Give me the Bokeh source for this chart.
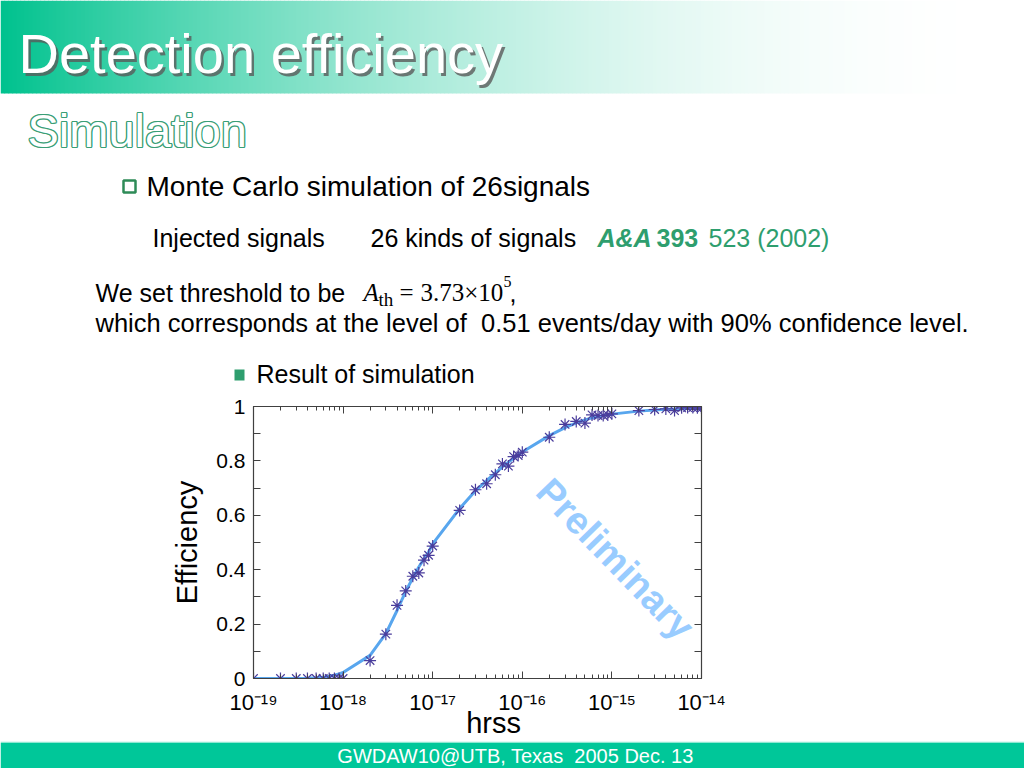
import numpy as np
from bokeh.plotting import figure
from bokeh.layouts import column
from bokeh.models import Range1d, Label, LogAxis, LinearAxis, FixedTicker
from bokeh.core.properties import value
from bokeh.embed import file_html
from bokeh.resources import INLINE

# ---------------- data ----------------
h_rss = [1e-19, 2e-19, 3e-19, 4e-19, 5e-19, 6e-19, 7e-19, 8e-19, 9e-19,
         1e-18, 2e-18, 3e-18, 4e-18, 5e-18, 6e-18, 7e-18, 8e-18, 9e-18,
         1e-17, 2e-17, 3e-17, 4e-17, 5e-17, 6e-17, 7e-17, 8e-17, 9e-17,
         1e-16, 2e-16, 3e-16, 4e-16, 5e-16, 6e-16, 7e-16, 8e-16, 9e-16,
         1e-15, 2e-15, 3e-15, 4e-15, 5e-15, 6e-15, 7e-15, 8e-15, 9e-15,
         1e-14]
efficiency_sim = [0.0, 0.0, 0.0, 0.0, 0.0, 0.0, 0.0, 0.0, 0.0,
                  0.0, 0.066, 0.163, 0.269, 0.322, 0.376, 0.388, 0.435, 0.453,
                  0.487, 0.618, 0.694, 0.716, 0.749, 0.789, 0.781, 0.816, 0.820,
                  0.832, 0.887, 0.934, 0.945, 0.939, 0.969, 0.967, 0.967, 0.969,
                  0.973, 0.985, 0.989, 0.991, 0.985, 0.995, 0.996, 0.996, 0.995,
                  0.994]
efficiency_fit = [0.0, 0.0, 0.0, 0.001, 0.003, 0.005, 0.008, 0.012, 0.017,
                  0.022, 0.085, 0.165, 0.250, 0.320, 0.370, 0.410, 0.440, 0.465,
                  0.495, 0.625, 0.690, 0.728, 0.755, 0.778, 0.795, 0.810, 0.822,
                  0.833, 0.893, 0.922, 0.940, 0.951, 0.958, 0.963, 0.967, 0.970,
                  0.972, 0.983, 0.987, 0.990, 0.991, 0.992, 0.993, 0.994, 0.994,
                  0.995]
x_ticks = [1e-19, 1e-18, 1e-17, 1e-16, 1e-15, 1e-14]
x_tick_labels = ["10⁻¹⁹", "10⁻¹⁸", "10⁻¹⁷", "10⁻¹⁶", "10⁻¹⁵", "10⁻¹⁴"]
y_ticks = [0.0, 0.2, 0.4, 0.6, 0.8, 1.0]
y_tick_labels = ["0", "0.2", "0.4", "0.6", "0.8", "1"]
y_minor = [0.1, 0.3, 0.5, 0.7, 0.9]

SANS = value("Liberation Sans")
SERIF = value("Liberation Serif")
GREEN = "#2e9e6e"
NB = "\u00a0"

W = 1024
H_TOP, H_PLOT, H_FOOT = 392, 349, 27

# ---------------- top part (slide header and text) ----------------
top = figure(width=W, height=H_TOP, x_range=Range1d(0, 1024), y_range=Range1d(392, 0),
             x_axis_type=None, y_axis_type=None, output_backend="svg",
             toolbar_location=None, min_border=0, outline_line_color=None,
             frame_align=False)
top.grid.visible = False

# gradient header band
edges = np.linspace(0, 1024, 257)
c0 = np.array([0, 194, 142])
cols = []
for xl in edges[:-1]:
    tt = min(xl / 1000.0, 1.0)
    k = (1 - tt) ** 2
    c = 255 - (255 - c0) * k
    cols.append("#%02x%02x%02x" % tuple(int(round(v)) for v in c))
top.quad(left=edges[:-1], right=edges[1:] + 0.6, top=0, bottom=93, fill_color=cols, line_color=None)

def t(x, y, s, size="25px", color="black", font=SANS, style="normal", **kw):
    top.text(x=[x], y=[y], text=[s], text_font=font, text_font_size=size,
             text_color=color, text_font_style=style, text_baseline="middle", **kw)

# title with shadow
t(18, 53, "Detection efficiency", size="56px", color="#5a5a5a", x_offset=2.5, y_offset=2.5,
  text_alpha=0.8)
t(18, 53, "Detection efficiency", size="56px", color="white")

# outlined subtitle
for dx, dy in [(-1.2, 0), (1.2, 0), (0, -1.2), (0, 1.2), (-0.9, -0.9), (0.9, 0.9), (-0.9, 0.9), (0.9, -0.9)]:
    t(27, 130, "Simulation", size="47px", color="#3a9e76", x_offset=dx, y_offset=dy)
t(27, 130, "Simulation", size="47px", color="white")

# bullet line
top.quad(left=[123], right=[135], top=[180], bottom=[192], fill_color="white",
         line_color="#2e8b57", line_width=2.5)
t(146, 186, "Monte Carlo simulation of 26signals", size="28px")

t(152, 237, "Injected signals")
t(370, 237, "26 kinds of signals")
t(597, 237, "A&A", color=GREEN, style="bold italic")
t(656, 237, "393", color=GREEN, style="bold")
t(708, 237, "523 (2002)", color=GREEN)

t(95, 292, "We set threshold to be")
t(363, 292, "A", size="25px", font=SERIF, style="italic")
t(378, 299, "th", size="19px", font=SERIF)
t(399, 292, "=", size="25px", font=SERIF)
t(420, 292, "3.73×10", size="25px", font=SERIF)
t(503, 281, "5", size="16px", font=SERIF)
t(509, 292, ",")
t(95, 322, "which corresponds at the level of " + NB + "0.51 events/day with 90% confidence level.",
  size="25.5px")

top.quad(left=[234], right=[244], top=[369], bottom=[380], fill_color=GREEN, line_color=None)
t(256, 373, "Result of simulation")

# ---------------- plot ----------------
p = figure(width=W, height=H_PLOT, x_axis_type="log",
           x_range=Range1d(1e-19, 1e-14), y_range=Range1d(0, 1),
           output_backend="svg", toolbar_location=None,
           min_border_left=253, min_border_right=323, min_border_top=14, min_border_bottom=63,
           outline_line_color="#404040", outline_line_width=1.2, frame_align=False)
p.grid.visible = False

p.line(h_rss, efficiency_fit, line_color="#58a6ee", line_width=3)
p.scatter(h_rss, efficiency_sim, marker="asterisk", size=12, line_color="#4a3d9c", line_width=1.2)

x_minor = [m * d for d in x_ticks[:-1] for m in range(2, 10)]

def style_axis(ax, ticks, minor, labels, minor_len, show):
    ax.ticker = FixedTicker(ticks=ticks, minor_ticks=minor)
    ax.major_tick_in = 7
    ax.major_tick_out = 0
    ax.minor_tick_in = minor_len
    ax.minor_tick_out = 0
    ax.axis_line_color = "#404040"
    ax.major_tick_line_color = "#404040"
    ax.minor_tick_line_color = "#404040"
    ax.major_label_text_font = "Liberation Sans"
    if show:
        ax.major_label_overrides = dict(zip(ticks, labels))
        ax.major_label_text_font_size = "22px"
        ax.major_label_text_color = "black"
    else:
        ax.major_label_overrides = {tk: " " for tk in ticks}
        ax.major_label_text_font_size = "6px"
        ax.major_label_text_alpha = 0
        ax.major_label_standoff = 0

style_axis(p.xaxis[0], x_ticks, x_minor, x_tick_labels, 4, True)
p.xaxis[0].major_label_standoff = 11
p.xaxis[0].axis_label = NB * 4 + "hrss"
p.xaxis[0].axis_label_text_font = "Liberation Sans"
p.xaxis[0].axis_label_text_font_size = "29px"
p.xaxis[0].axis_label_text_font_style = "normal"
p.xaxis[0].axis_label_text_color = "black"
p.xaxis[0].axis_label_standoff = -11

style_axis(p.yaxis[0], y_ticks, y_minor, y_tick_labels, 7, True)
p.yaxis[0].major_label_text_font_size = "21px"
p.yaxis[0].major_label_standoff = 8
p.yaxis[0].axis_label = "Efficiency"
p.yaxis[0].axis_label_text_font = "Liberation Sans"
p.yaxis[0].axis_label_text_font_size = "29px"
p.yaxis[0].axis_label_text_font_style = "normal"
p.yaxis[0].axis_label_text_color = "black"
p.yaxis[0].axis_label_standoff = 10

ax_top = LogAxis()
style_axis(ax_top, x_ticks, x_minor, x_tick_labels, 4, False)
p.add_layout(ax_top, "above")
ax_right = LinearAxis()
style_axis(ax_right, y_ticks, y_minor, y_tick_labels, 7, False)
p.add_layout(ax_right, "right")

p.add_layout(Label(x=10 ** -14.96, y=0.44, text="Preliminary", text_font="Liberation Sans",
                   text_font_size="38px", text_font_style="bold", text_color="#99ccff",
                   angle=-0.80, text_align="center", text_baseline="middle"))

# ---------------- footer ----------------
foot = figure(width=W, height=H_FOOT, x_range=Range1d(0, 1024), y_range=Range1d(768, 741),
              x_axis_type=None, y_axis_type=None, output_backend="svg",
              toolbar_location=None, min_border=0, outline_line_color=None,
              frame_align=False)
foot.grid.visible = False
foot.quad(left=[0], right=[1024], top=[741], bottom=[742.5], fill_color="#8ee8d2", line_color=None)
foot.quad(left=[0], right=[1024], top=[742.5], bottom=[768], fill_color="#00c799", line_color=None)
foot.text(x=[515], y=[755], text=["GWDAW10@UTB, Texas" + NB + " 2005 Dec. 13"], text_font=SANS,
          text_font_size="20px", text_color="white", text_align="center", text_baseline="middle")

layout = column(top, p, foot, spacing=0)
open("out.html", "w").write(file_html(layout, INLINE))
